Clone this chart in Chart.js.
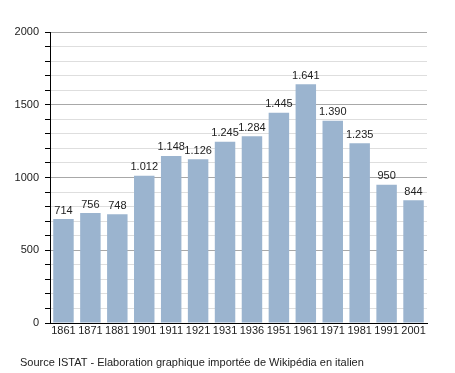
<!DOCTYPE html>
<html lang="it">
<head>
    <meta charset="UTF-8">
    <title>Popolazione</title>
    <style>
        body { margin: 0; padding: 0; background: #fff; }
        .chart-container { position: relative; width: 455px; height: 373px; }
    </style>
    <script src="https://cdn.jsdelivr.net/npm/chart.js"></script>
</head>
<body>
    <div class="chart-container">
        <canvas id="popChart" width="455" height="373"></canvas>
    </div>
    <script>
        const years = ["1861", "1871", "1881", "1901", "1911", "1921", "1931", "1936", "1951", "1961", "1971", "1981", "1991", "2001"];
        const population = [714, 756, 748, 1012, 1148, 1126, 1245, 1284, 1445, 1641, 1390, 1235, 950, 844];
        const sourceText = "Source ISTAT - Elaboration graphique importée de Wikipédia en italien";

        const FONT = "'Liberation Sans', Arial, sans-serif";

        // 1641 -> "1.641"
        function fmt(n) {
            return String(n).replace(/\B(?=(\d{3})+(?!\d))/g, ".");
        }

        const valueLabels = {
            id: "valueLabels",
            afterDatasetsDraw(chart) {
                const ctx = chart.ctx;
                const meta = chart.getDatasetMeta(0);
                ctx.save();
                ctx.font = "11px " + FONT;
                ctx.fillStyle = "#222";
                ctx.textAlign = "center";
                ctx.textBaseline = "bottom";
                meta.data.forEach((bar, i) => {
                    ctx.fillText(fmt(population[i]), bar.x, bar.y - 3);
                });
                ctx.restore();
            }
        };

        const sourceNote = {
            id: "sourceNote",
            afterDraw(chart) {
                const ctx = chart.ctx;
                ctx.save();
                ctx.font = "11px " + FONT;
                ctx.fillStyle = "#222";
                ctx.textAlign = "left";
                ctx.textBaseline = "middle";
                ctx.fillText(sourceText, 20, 363);
                ctx.restore();
            }
        };

        new Chart(document.getElementById("popChart"), {
            type: "bar",
            data: {
                labels: years,
                datasets: [{
                    data: population,
                    backgroundColor: "#9bb4cf",
                    categoryPercentage: 1,
                    barPercentage: 0.76
                }]
            },
            options: {
                responsive: false,
                animation: false,
                layout: { padding: { top: 32, right: 28, bottom: 30, left: 0 } },
                plugins: {
                    legend: { display: false },
                    tooltip: { enabled: false }
                },
                scales: {
                    x: {
                        grid: { display: false, drawTicks: false },
                        border: { color: "#000", width: 1 },
                        ticks: { color: "#222", font: { family: FONT, size: 11 }, padding: 1, maxRotation: 0, autoSkip: false },
                        afterFit: s => { s.height = 20; }
                    },
                    y: {
                        min: 0,
                        max: 2000,
                        border: { color: "#000", width: 1 },
                        grid: {
                            color: c => (c.tick.value % 500 === 0 ? "#a8a8a8" : "#dedede"),
                            tickColor: "#000",
                            tickLength: 5
                        },
                        ticks: {
                            stepSize: 100,
                            autoSkip: false,
                            color: "#222",
                            font: { family: FONT, size: 11 },
                            padding: 6,
                            callback: v => (v % 500 === 0 ? v : "")
                        },
                        afterFit: s => { s.width = 50; }
                    }
                }
            },
            plugins: [valueLabels, sourceNote]
        });
    </script>
</body>
</html>
